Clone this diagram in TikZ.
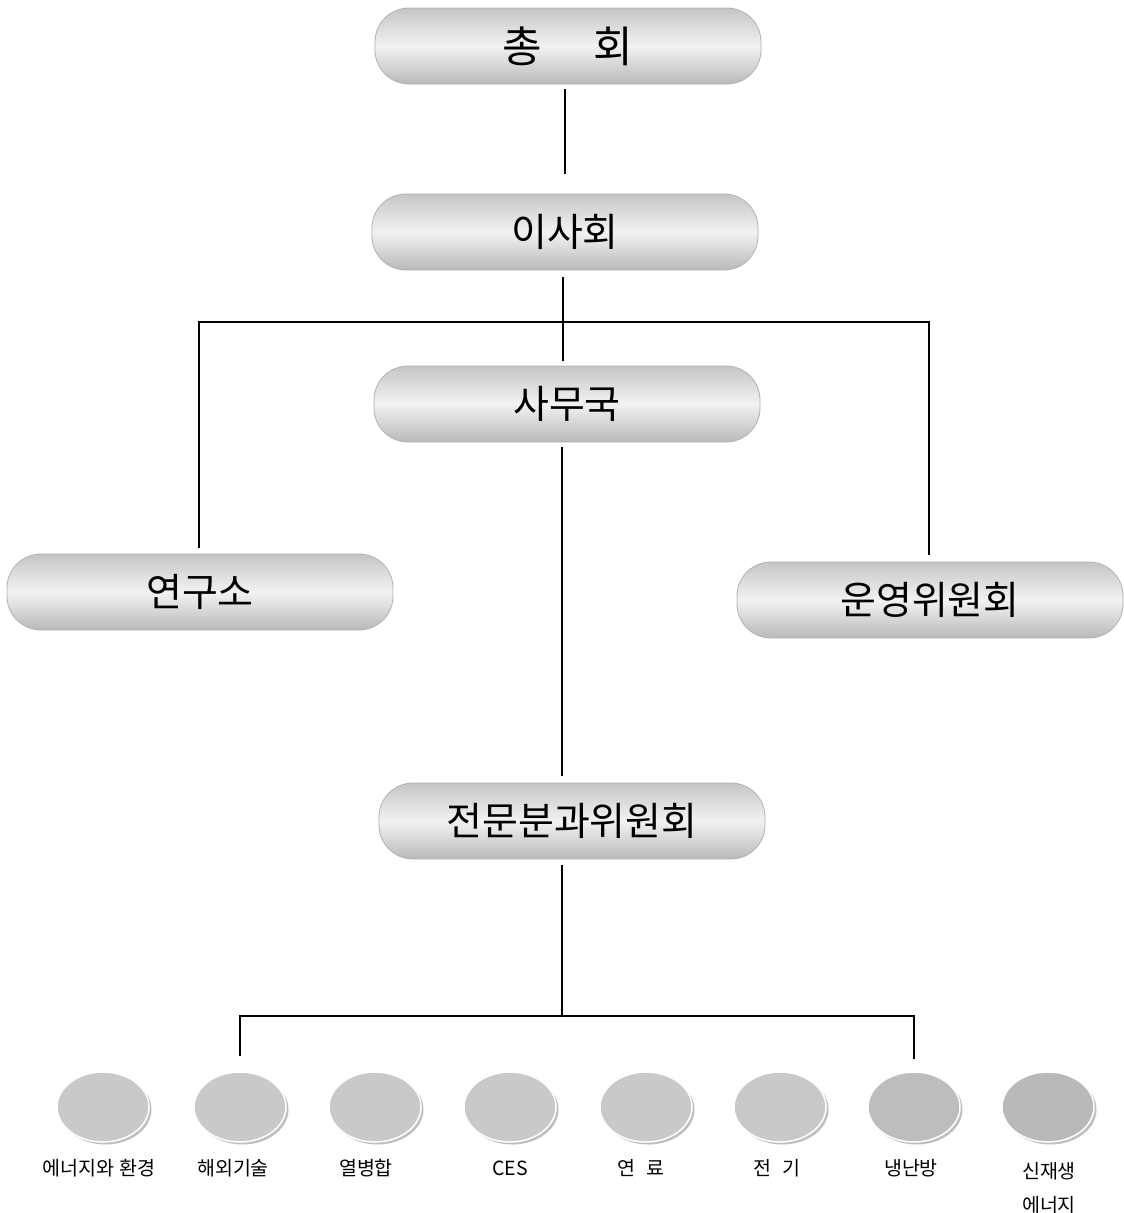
\documentclass[tikz,border=0pt]{standalone}
\usepackage{fontspec}
\newfontfamily\kr{Noto Sans CJK KR}
\usetikzlibrary{shapes.geometric,shadows}
\begin{document}
\begin{tikzpicture}[x=1pt,y=-1pt,
  pill/.style={rectangle, rounded corners=34pt, minimum width=386pt, minimum height=76pt,
    top color=gray!45, bottom color=gray!55, middle color=gray!10, draw=gray!60, line width=0.8pt,
    font=\kr\fontsize{39}{44}\selectfont, inner sep=0pt},
  leaf/.style={ellipse, minimum width=92pt, minimum height=70pt, draw=white, line width=1.5pt,
    drop shadow={shadow xshift=2.5pt, shadow yshift=-2.5pt, fill=gray!50, opacity=1}},
  lbl/.style={font=\kr\fontsize{19.5}{34}\selectfont, align=center, inner sep=0pt},
  conn/.style={line width=1.1pt, black}]
\fill[white] (0,0) rectangle (1124,1213);
\useasboundingbox (0,0) rectangle (1124,1213);

% boxes
\node[pill, font=\kr\fontsize{43}{48}\selectfont] (chonghoe) at (568,46) {총\hspace{52pt}회};
\node[pill] (isahoe) at (565,232) {이사회};
\node[pill] (samuguk) at (567,404) {사무국};
\node[pill] (yeonguso) at (200,592) {연구소};
\node[pill] (unyeong) at (930,600) {운영위원회};
\node[pill] (jeonmun) at (572,821) {전문분과위원회};

% ellipses
\node[leaf, fill=gray!42] (c1) at (103,1107) {};
\node[leaf, fill=gray!42] (c2) at (240,1107) {};
\node[leaf, fill=gray!42] (c3) at (375,1107) {};
\node[leaf, fill=gray!42] (c4) at (510,1107) {};
\node[leaf, fill=gray!42] (c5) at (646,1107) {};
\node[leaf, fill=gray!42] (c6) at (780,1107) {};
\node[leaf, fill=gray!52] (c7) at (914,1107) {};
\node[leaf, fill=gray!55] (c8) at (1048,1107) {};

% labels
\node[lbl] (l1) at (99,1168) {에너지와 환경};
\node[lbl] (l2) at (233,1168) {해외기술};
\node[lbl] (l3) at (366,1168) {열병합};
\node[lbl] (l4) at (510,1168) {CES};
\node[lbl] (l5) at (641,1168) {연\hspace{0.6em}료};
\node[lbl] (l6) at (777,1168) {전\hspace{0.6em}기};
\node[lbl] (l7) at (911,1168) {냉난방};
\node[lbl] (l8) at (1049,1188) {신재생\\에너지};

% connectors
\coordinate (hbar) at (565,322);
\coordinate (bbar) at (562,1016);
\draw[conn] ([yshift=-5pt]chonghoe.south -| 565,0) -- ([yshift=20pt]isahoe.north -| 565,0);
\draw[conn] ([yshift=-7pt]isahoe.south -| 563,0) -- ([yshift=5pt]samuguk.north -| 563,0);
\draw[conn] ([yshift=6pt]yeonguso.north -| 199,0) |- (hbar) -| ([yshift=7pt]unyeong.north -| 929,0);
\draw[conn] ([yshift=-5pt]samuguk.south -| 562,0) -- ([yshift=7pt]jeonmun.north -| 562,0);
\draw[conn] ([yshift=-6pt]jeonmun.south -| 562,0) -- (bbar);
\draw[conn] ([yshift=15pt]c2.north) |- (bbar) -| ([yshift=12pt]c7.north);
\end{tikzpicture}
\end{document}
